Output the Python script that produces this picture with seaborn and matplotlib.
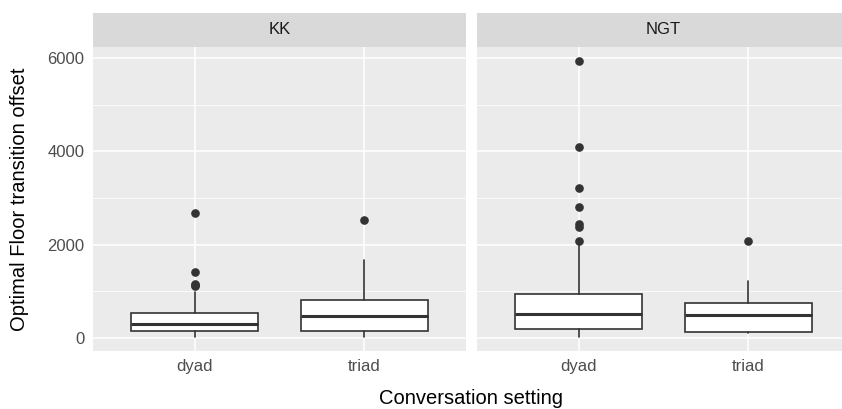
import matplotlib
matplotlib.use("Agg")
import matplotlib.pyplot as plt
from matplotlib.patches import Rectangle
import pandas as pd
import seaborn as sns

# box summaries, order: KK dyad, KK triad, NGT dyad, NGT triad
corpus = ["KK", "KK", "NGT", "NGT"]
setting = ["dyad", "triad", "dyad", "triad"]
whisker_low = [10, 10, 20, 100]
box_q1 = [157, 157, 193, 136]
box_median = [307, 466, 522, 501]
box_q3 = [543, 823, 945, 759]
whisker_high = [981, 1681, 2020, 1231]
outliers = [[1110, 1140, 1160, 1417, 2677],
            [2519],
            [2076, 2390, 2440, 2798, 3206, 4086, 5941],
            [2076]]

panels = ["KK", "NGT"]
setting_order = ["dyad", "triad"]
y_ticks = [0, 2000, 4000, 6000]
y_minor = [1000, 3000, 5000]

stats = pd.DataFrame({
    "corpus": corpus,
    "setting": setting,
    "whislo": whisker_low,
    "q1": box_q1,
    "med": box_median,
    "q3": box_q3,
    "whishi": whisker_high,
    "fliers": outliers,
})

sns.set_theme(style="darkgrid", rc={
    "axes.facecolor": "#EBEBEB",
    "grid.color": "white",
    "xtick.color": "#333333",
    "ytick.color": "#333333",
})
plt.rcParams["font.family"] = ["Liberation Sans", "DejaVu Sans"]

DARK = "#333333"


def draw_boxes(data, **kwargs):
    ax = plt.gca()
    boxes = []
    for _, row in data.iterrows():
        boxes.append(dict(whislo=row.whislo, q1=row.q1, med=row.med, q3=row.q3,
                          whishi=row.whishi, fliers=row.fliers, label=row.setting))
    pos = [setting_order.index(s) for s in data.setting]
    ax.bxp(boxes, positions=pos, widths=0.75, showcaps=False, patch_artist=True,
           boxprops=dict(facecolor="white", edgecolor=DARK, linewidth=1.2),
           whiskerprops=dict(color=DARK, linewidth=1.2),
           medianprops=dict(color=DARK, linewidth=2.2),
           flierprops=dict(marker="o", markerfacecolor=DARK, markeredgecolor=DARK,
                           markersize=5.2))


g = sns.FacetGrid(stats, col="corpus", col_order=panels, sharey=True,
                  height=4.09, aspect=4.21 / 4.09, despine=False)
g.map_dataframe(draw_boxes)
g.set_titles("")
g.set_axis_labels("", "")

fig = g.figure
fig.set_size_inches(8.42, 4.09)
W, H = 842, 409
panel_left = [93, 477]
pw = 373
top, bottom = 47, 351

for i, (ax, name) in enumerate(zip(g.axes.flat, panels)):
    ax.set_position([panel_left[i] / W, (H - bottom) / H, pw / W, (bottom - top) / H])
    ax.set_xlim(-0.6, 1.6)
    ax.set_ylim(-280, 6240)
    ax.set_xticks(range(len(setting_order)))
    ax.set_xticklabels(setting_order)
    ax.set_yticks(y_ticks)
    ax.set_yticks(y_minor, minor=True)
    ax.grid(True, which="major", linewidth=1.1)
    ax.grid(True, which="minor", axis="y", linewidth=0.55)
    ax.set_axisbelow(True)
    for sp in ax.spines.values():
        sp.set_visible(False)
    ax.tick_params(axis="both", which="major", length=3.6, width=0.8, pad=2.5,
                   labelsize=12, labelcolor="#4D4D4D", color=DARK)
    ax.tick_params(axis="y", which="minor", length=0)
    if i > 0:
        ax.tick_params(axis="y", which="major", length=0, labelleft=False)
    else:
        ax.set_yticklabels([str(t) for t in y_ticks])
    # facet strip
    strip_h = 34 / (bottom - top)
    ax.add_patch(Rectangle((0, 1), 1, strip_h, transform=ax.transAxes,
                           facecolor="#D9D9D9", edgecolor="none", clip_on=False))
    ax.text(0.5, 1 + strip_h / 2, name, transform=ax.transAxes, ha="center",
            va="center", fontsize=12, color="#1A1A1A")

fig.text(471 / W, 1 - 398 / H, "Conversation setting", ha="center", va="center",
         fontsize=14.5, color="black")
fig.text(20 / W, 1 - 199 / H, "Optimal Floor transition offset", ha="center",
         va="center", rotation=90, fontsize=14.5, color="black")

fig.savefig("out.png", dpi=100)
